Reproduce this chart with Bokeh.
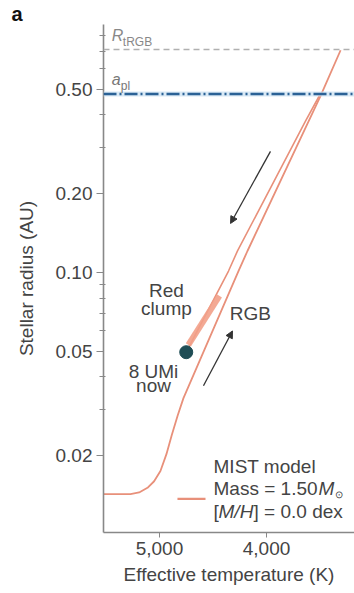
from bokeh.plotting import figure
from bokeh.models import (Range1d, FixedTicker, NumeralTickFormatter, Span, Arrow,
                          NormalHead, Label)
from bokeh.embed import file_html
from bokeh.resources import INLINE

# ---------------- data ----------------
# RGB / subgiant part of the MIST track
rgb_teff = [5523, 5271, 5190, 5112, 5050, 4991, 4935, 4885, 4830, 4776, 4262, 4178, 3495, 3308]
rgb_r = [0.0143, 0.0143, 0.0145, 0.0151, 0.0160, 0.0175, 0.0203, 0.0240, 0.0285, 0.0332, 0.1014, 0.1209, 0.472, 0.705]
# post-clump (AGB) branch
agb_teff = [4750, 4355, 4271, 3636, 3500]
agb_r = [0.0497, 0.1014, 0.121, 0.378, 0.478]
# red clump segment
clump_teff = [4730, 4440]
clump_r = [0.0530, 0.0815]
# 8 UMi now
star_teff = [4750]
star_r = [0.0497]
# reference radii
r_trgb = 0.71
a_pl = 0.48
# evolution arrows (start T, start R, end T, end R)
arrow_down = (3963, 0.290, 4336, 0.154)
arrow_up = (4589, 0.0370, 4318, 0.0599)

y_major = [0.02, 0.05, 0.10, 0.20, 0.50]
y_minor = [0.03, 0.04, 0.06, 0.07, 0.08, 0.09, 0.3, 0.4, 0.6, 0.7, 0.8]
x_major = [5000, 4000]

FONT = "Liberation Sans"
TRACK = "#e8907a"
GREY = "#444444"

p = figure(width=354, height=593, y_axis_type="log",
           x_range=Range1d(5523, 3178), y_range=Range1d(0.0102, 0.884),
           output_backend="svg", toolbar_location=None,
           min_border_left=103, min_border_right=0, min_border_top=0,
           min_border_bottom=61)
p.outline_line_color = None
p.grid.visible = False
p.background_fill_color = "white"

# panel letter as title
p.title.text = "a"
p.title.align = "left"
p.title.offset = -92
p.title.standoff = 0
p.title.text_font = FONT
p.title.text_font_size = "20px"
p.title.text_font_style = "bold"
p.title.text_color = "#111111"

# axes
for ax in (p.xaxis[0], p.yaxis[0]):
    ax.axis_line_color = "#888888"
    ax.axis_line_width = 1.6
    ax.major_tick_line_color = "#888888"
    ax.minor_tick_line_color = "#888888"
    ax.major_label_text_font = FONT
    ax.major_label_text_font_size = "19px"
    ax.major_label_text_color = GREY
    ax.axis_label_text_font = FONT
    ax.axis_label_text_font_size = "19px"
    ax.axis_label_text_font_style = "normal"
    ax.axis_label_text_color = GREY

p.yaxis.ticker = FixedTicker(ticks=y_major, minor_ticks=y_minor)
p.yaxis.formatter = NumeralTickFormatter(format="0.00")
p.yaxis.major_tick_out = 7
p.yaxis.major_tick_in = 0
p.yaxis.minor_tick_out = 4
p.yaxis.minor_tick_in = 2
p.yaxis.major_label_standoff = 4
p.yaxis.axis_label = "Stellar radius (AU)"
p.yaxis.axis_label_standoff = 16

p.xaxis.ticker = FixedTicker(ticks=x_major, minor_ticks=[])
p.xaxis.formatter = NumeralTickFormatter(format="0,0")
p.xaxis.major_tick_out = 5
p.xaxis.major_tick_in = 0
p.xaxis.major_label_standoff = 4
p.xaxis.axis_label = "Effective temperature (K)"
p.xaxis.axis_label_standoff = 6

# reference lines
p.add_layout(Span(location=r_trgb, dimension="width", line_color="#b0b0b0",
                  line_width=1.6, line_dash="6 4"))
p.add_layout(Span(location=a_pl, dimension="width", line_color="#cfe3f3",
                  line_width=5, line_alpha=0.8))
p.add_layout(Span(location=a_pl, dimension="width", line_color="#2b6296",
                  line_width=2.4, line_dash="13 3 2 3"))

# track
p.line(rgb_teff, rgb_r, line_color=TRACK, line_width=1.8)
p.line(agb_teff, agb_r, line_color=TRACK, line_width=1.6)
p.line(clump_teff, clump_r, line_color="#f2a088", line_width=6, line_alpha=0.9)
p.scatter(star_teff, star_r, size=13, fill_color="#1f4d55", line_color="#1f4d55")

# arrows
for (x0, y0, x1, y1) in (arrow_down, arrow_up):
    p.add_layout(Arrow(end=NormalHead(size=7, fill_color="#333333", line_color="#333333"),
                       x_start=x0, y_start=y0, x_end=x1, y_end=y1,
                       line_color="#333333", line_width=1.3))

def lab(x, y, text, size="19px", style="normal", align="center", color=GREY,
        xo=0, yo=0, baseline="middle"):
    p.add_layout(Label(x=x, y=y, text=text, text_font=FONT, text_font_size=size,
                       text_font_style=style, text_align=align, text_baseline=baseline,
                       text_color=color, x_offset=xo, y_offset=yo))

# in-plot annotations
lab(4935, 0.0854, "Red")
lab(4935, 0.0728, "clump")
lab(4150, 0.0697, "RGB")
lab(5056, 0.0421, "8 UMi")
lab(5056, 0.0370, "now")

# reference line labels
lab(5445, 0.80, "R", size="16px", style="italic", align="left", color="#888888")
lab(5445, 0.80, "tRGB", size="12px", align="left", color="#888888", xo=11, yo=-6)
lab(5445, 0.545, "a", size="16px", style="italic", align="left", color="#777777")
lab(5445, 0.545, "pl", size="12px", align="left", color="#777777", xo=9, yo=-6)

# legend
leg_t = 4495
lab(leg_t, 0.0182, "MIST model", align="left")
lab(leg_t, 0.0150, "Mass = 1.50", align="left")
lab(leg_t, 0.0150, "M", style="italic", align="left", xo=105)
lab(leg_t, 0.0150, "⊙", size="10px", align="left", xo=121, yo=-6)
lab(leg_t, 0.0123, "[", align="left")
lab(leg_t, 0.0123, "M/H", style="italic", align="left", xo=5)
lab(leg_t, 0.0123, "] = 0.0 dex", align="left", xo=40)
p.line([4832, 4570], [0.0137, 0.0137], line_color=TRACK, line_width=2.2)

open("out.html", "w").write(file_html(p, INLINE))
